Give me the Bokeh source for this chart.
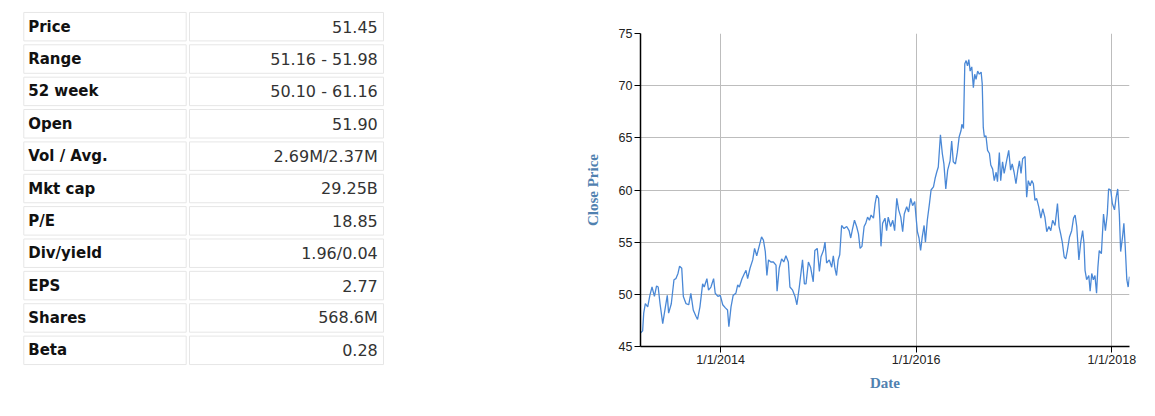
import pandas as pd
from bokeh.plotting import figure
from bokeh.layouts import row, column
from bokeh.models import Range1d, FactorRange, FixedTicker, ColumnDataSource
from bokeh.embed import file_html
from bokeh.resources import INLINE
from bokeh.core.properties import value

# ---------------- data ----------------
stat_labels = ["Price", "Range", "52 week", "Open", "Vol / Avg.", "Mkt cap",
               "P/E", "Div/yield", "EPS", "Shares", "Beta"]
stat_values = ["51.45", "51.16 - 51.98", "50.10 - 61.16", "51.90", "2.69M/2.37M",
               "29.25B", "18.85", "1.96/0.04", "2.77", "568.6M", "0.28"]

dates = [
    "2013-03-08", "2013-03-16", "2013-03-20", "2013-03-26", "2013-04-04", "2013-04-12",
    "2013-04-20", "2013-04-29", "2013-05-07", "2013-05-13", "2013-05-20", "2013-05-30",
    "2013-06-09", "2013-06-16", "2013-06-21", "2013-07-01", "2013-07-11", "2013-07-18",
    "2013-07-26", "2013-08-01", "2013-08-09", "2013-08-15", "2013-08-25", "2013-09-04",
    "2013-09-12", "2013-09-21", "2013-10-01", "2013-10-07", "2013-10-16", "2013-10-26",
    "2013-11-01", "2013-11-11", "2013-11-17", "2013-11-26", "2013-12-06", "2013-12-12",
    "2013-12-22", "2013-12-31",
    "2014-01-09", "2014-01-19", "2014-01-27", "2014-02-01", "2014-02-09", "2014-02-17",
    "2014-02-27", "2014-03-06", "2014-03-12", "2014-03-22", "2014-03-31", "2014-04-06",
    "2014-04-12", "2014-04-21", "2014-05-01", "2014-05-08", "2014-05-16", "2014-05-26",
    "2014-06-03", "2014-06-10", "2014-06-17", "2014-06-23", "2014-06-29", "2014-07-08",
    "2014-07-17", "2014-07-27", "2014-07-31", "2014-08-08", "2014-08-17", "2014-08-25",
    "2014-09-02", "2014-09-11", "2014-09-17", "2014-09-27", "2014-10-06", "2014-10-13",
    "2014-10-22", "2014-11-03", "2014-11-10", "2014-11-16", "2014-11-25", "2014-12-03",
    "2014-12-13", "2014-12-19", "2014-12-28",
    "2015-01-05", "2015-01-11", "2015-01-20", "2015-01-26", "2015-02-01", "2015-02-11",
    "2015-02-20", "2015-02-26", "2015-03-04", "2015-03-10", "2015-03-16", "2015-03-22",
    "2015-03-29", "2015-04-07", "2015-04-17", "2015-04-26", "2015-05-02", "2015-05-09",
    "2015-05-16", "2015-05-24", "2015-05-31", "2015-06-06", "2015-06-13", "2015-06-21",
    "2015-06-27", "2015-07-04", "2015-07-11", "2015-07-17", "2015-07-26", "2015-08-01",
    "2015-08-07", "2015-08-14", "2015-08-19", "2015-08-23", "2015-08-29", "2015-09-07",
    "2015-09-13", "2015-09-19", "2015-09-28", "2015-10-06", "2015-10-13", "2015-10-21",
    "2015-10-28", "2015-11-05", "2015-11-12", "2015-11-18", "2015-11-27", "2015-12-04",
    "2015-12-12", "2015-12-19", "2015-12-27",
    "2016-01-01", "2016-01-06", "2016-01-12", "2016-01-18", "2016-01-24", "2016-01-31",
    "2016-02-05", "2016-02-12", "2016-02-20", "2016-02-26", "2016-03-06", "2016-03-12",
    "2016-03-18", "2016-03-24", "2016-04-01", "2016-04-08", "2016-04-14", "2016-04-21",
    "2016-04-28", "2016-05-07", "2016-05-13", "2016-05-19", "2016-05-27", "2016-06-03",
    "2016-06-10", "2016-06-17", "2016-06-20", "2016-06-26", "2016-07-01", "2016-07-06",
    "2016-07-11", "2016-07-16", "2016-07-21", "2016-07-27", "2016-08-02", "2016-08-07",
    "2016-08-12", "2016-08-18", "2016-08-24", "2016-08-31", "2016-09-04", "2016-09-08",
    "2016-09-12", "2016-09-18", "2016-09-24", "2016-10-01", "2016-10-06", "2016-10-13",
    "2016-10-19", "2016-10-26", "2016-10-31", "2016-11-07", "2016-11-12", "2016-11-19",
    "2016-11-25", "2016-12-04", "2016-12-12", "2016-12-19", "2016-12-25",
    "2017-01-01", "2017-01-08", "2017-01-15", "2017-01-21", "2017-01-27", "2017-02-02",
    "2017-02-11", "2017-02-17", "2017-02-23", "2017-03-02", "2017-03-08", "2017-03-14",
    "2017-03-20", "2017-03-26", "2017-04-03", "2017-04-11", "2017-04-18", "2017-04-26",
    "2017-05-03", "2017-05-11", "2017-05-18", "2017-05-25", "2017-06-03", "2017-06-12",
    "2017-06-18", "2017-06-24", "2017-06-30", "2017-07-07", "2017-07-13", "2017-07-19",
    "2017-07-27", "2017-08-04", "2017-08-11", "2017-08-17", "2017-08-23", "2017-08-31",
    "2017-09-07", "2017-09-14", "2017-09-19", "2017-09-23", "2017-09-29", "2017-10-07",
    "2017-10-12", "2017-10-18", "2017-10-24", "2017-10-30", "2017-11-05", "2017-11-10",
    "2017-11-15", "2017-11-23", "2017-12-01", "2017-12-08", "2017-12-15", "2017-12-20",
    "2017-12-28",
    "2018-01-03", "2018-01-11", "2018-01-17", "2018-01-23", "2018-01-29", "2018-02-03",
    "2018-02-10", "2018-02-15", "2018-02-20", "2018-02-26", "2018-03-03", "2018-03-08",
]

close = [
    46.3, 46.5, 48.2, 49.1, 48.8, 49.9,
    50.7, 49.8, 50.8, 50.7, 49.1, 47.2,
    48.8, 49.9, 48.2, 49.1, 51.4, 51.5,
    52.0, 52.7, 52.5, 49.8, 49.1, 49.0,
    50.1, 48.5, 47.9, 47.6, 48.8, 51.0,
    50.7, 51.5, 50.4, 50.7, 51.5, 50.1,
    49.8, 49.9,
    49.0, 48.7, 48.5, 46.9, 48.8, 49.9,
    50.1, 50.9, 50.7, 51.5, 52.0, 52.3,
    51.5, 52.5, 53.3, 54.4, 53.7, 54.7,
    55.5, 55.2, 54.1, 51.8, 53.3, 53.1,
    53.1, 52.8, 50.3, 52.5, 53.4, 53.1,
    53.7, 53.1, 50.7, 50.4, 49.8, 49.0,
    50.7, 53.3, 51.0, 51.0, 53.1, 52.6,
    51.2, 54.2, 54.4,
    52.2, 53.6, 54.2, 55.0, 53.0, 53.3,
    52.6, 53.7, 52.5, 51.8, 53.3, 53.8,
    56.6, 56.3, 56.5, 56.1, 55.4, 56.3,
    57.1, 56.5, 55.8, 54.4, 54.6, 56.5,
    56.8, 57.4, 57.1, 57.6, 57.3, 58.7,
    59.5, 59.2, 57.1, 54.6, 56.8, 57.3,
    56.1, 57.4, 56.5, 57.1, 56.1, 59.2,
    58.1, 57.4, 56.0, 57.7, 58.4, 57.9,
    59.2, 58.5, 58.9,
    57.4, 56.0, 55.4, 54.2, 55.5, 56.6,
    55.0, 57.1, 58.7, 60.0, 60.3, 61.1,
    61.7, 62.2, 65.3, 63.5, 62.5, 60.1,
    61.9, 62.8, 64.7, 62.7, 62.5, 63.6,
    65.1, 65.7, 66.3, 65.9, 72.1, 72.4,
    71.9, 72.5, 71.4, 71.8, 69.8, 71.1,
    70.6, 71.4, 71.1, 71.3, 70.2, 66.0,
    65.1, 65.2, 63.8, 63.5, 62.4, 62.0,
    60.9, 61.7, 60.8, 63.6, 60.9, 62.7,
    61.6, 62.8, 63.8, 61.9, 62.5,
    61.7, 60.6, 61.9, 62.8, 61.6, 63.0,
    63.2, 59.3, 60.9, 60.4, 60.9, 60.6,
    59.0, 59.2, 58.4, 57.3, 58.2, 57.4,
    56.0, 56.5, 56.1, 57.1, 56.6, 58.7,
    56.5, 55.8, 55.0, 53.6, 53.4, 54.2,
    55.5, 56.1, 57.3, 57.6, 56.5, 53.3,
    55.0, 56.1, 54.9, 52.3, 51.4, 51.8,
    50.3, 52.0, 51.4, 51.8, 50.1, 52.6,
    54.2, 53.9, 57.7, 56.1, 57.7, 60.1,
    60.0,
    58.7, 58.1, 59.3, 60.1, 57.7, 54.1,
    55.5, 56.8, 54.6, 51.4, 50.7, 51.7,
]

y_ticks = [45, 50, 55, 60, 65, 70, 75]
x_tick_labels = ["1/1/2014", "1/1/2016", "1/1/2018"]

# ---------------- table ----------------
src = ColumnDataSource(dict(label=stat_labels, val=stat_values))
t = figure(width=560, height=400, output_backend="svg", toolbar_location=None,
           x_range=Range1d(0, 560),
           y_range=FactorRange(factors=list(reversed(stat_labels))),
           x_axis_location=None, y_axis_location=None,
           min_border_left=0, min_border_right=0, min_border_top=10, min_border_bottom=34)
t.grid.visible = False
t.outline_line_color = None
t.rect(x=104.5, y="label", width=162.4, height=0.88, source=src,
       fill_color="white", line_color="#e6e6e6", line_width=1)
t.rect(x=286, y="label", width=194, height=0.88, source=src,
       fill_color="white", line_color="#e6e6e6", line_width=1)
t.text(x=27.7, y="label", text="label", source=src,
       text_font=value("DejaVu Sans"), text_font_style="bold", text_font_size="15px",
       text_baseline="middle", text_align="left", text_color="#111111")
t.text(x=377.3, y="label", text="val", source=src,
       text_font=value("DejaVu Sans"), text_font_size="16px",
       text_baseline="middle", text_align="right", text_color="#333333")

# ---------------- chart ----------------
xd = pd.to_datetime(dates)
p = figure(width=595, height=400, x_axis_type="datetime", output_backend="svg",
           toolbar_location=None,
           x_range=Range1d(xd[0], xd[-1]), y_range=Range1d(45, 75),
           min_border_left=80, min_border_right=26, min_border_top=33, min_border_bottom=54)
p.outline_line_color = None
p.line(xd, close, line_color="#4a88d6", line_width=1.3)

tick_ms = [int(pd.to_datetime(s, format="%m/%d/%Y").value // 10**6) for s in x_tick_labels]
p.xaxis.ticker = FixedTicker(ticks=tick_ms)
p.xaxis.major_label_overrides = {ms: lab for ms, lab in zip(tick_ms, x_tick_labels)}
p.yaxis.ticker = FixedTicker(ticks=y_ticks)

for ax in (p.xaxis, p.yaxis):
    ax.axis_line_color = "black"
    ax.axis_line_width = 1.5
    ax.major_tick_line_color = "black"
    ax.major_tick_out = 6
    ax.major_tick_in = 0
    ax.minor_tick_line_color = None
    ax.major_label_text_font = "Liberation Sans"
    ax.major_label_text_font_size = "12.5px"
    ax.major_label_text_color = "#222222"
    ax.axis_label_text_font = "Liberation Serif"
    ax.axis_label_text_font_style = "bold"
    ax.axis_label_text_font_size = "15px"
    ax.axis_label_text_color = "#5081b0"

p.xaxis.axis_label = "Date"
p.yaxis.axis_label = "Close Price"
p.xaxis.major_label_standoff = 0
p.yaxis.major_label_standoff = 2
p.xaxis.axis_label_standoff = 5
p.yaxis.axis_label_standoff = 15

p.xgrid.grid_line_color = "#bdbdbd"
p.ygrid.grid_line_color = "#bdbdbd"
p.xgrid.grid_line_width = 1
p.ygrid.grid_line_width = 1

layout = row(column(t), column(p))
open("out.html", "w").write(file_html(layout, INLINE))
